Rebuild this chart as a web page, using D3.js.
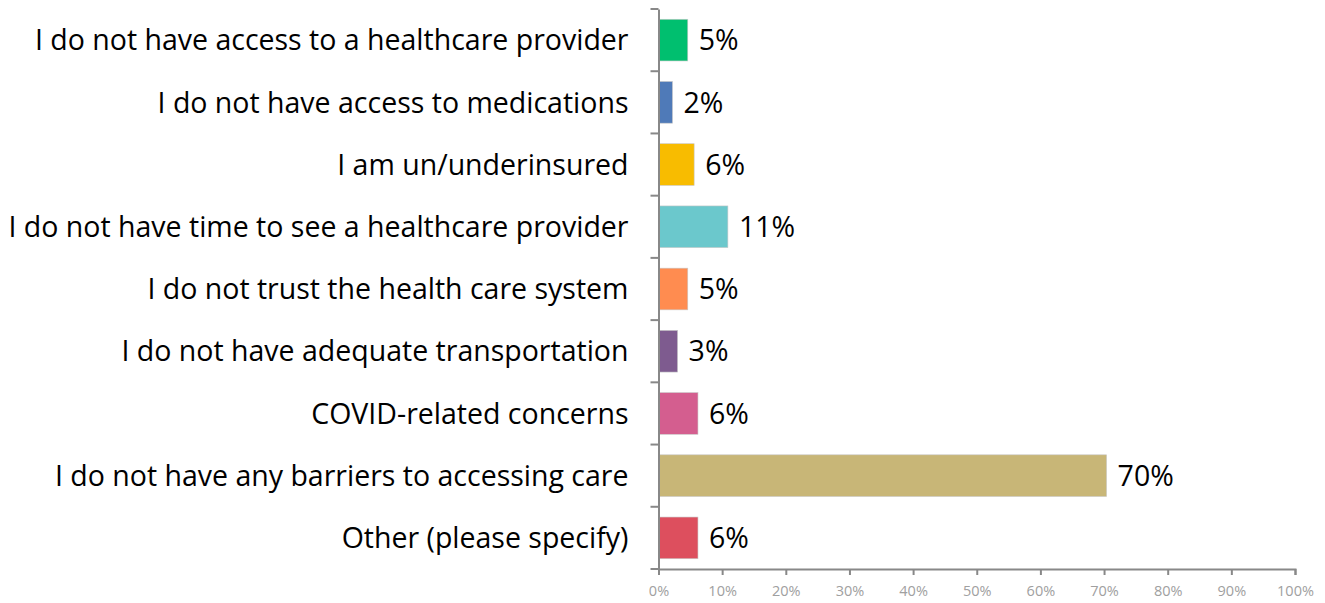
<!DOCTYPE html>
<html>
<head>
<meta charset="utf-8">
<script src="https://cdn.jsdelivr.net/npm/d3@7"></script>
<style>
  body { margin: 0; background: #fff; }
  svg { display: block; }
</style>
</head>
<body>
<div id="chart"></div>
<script>
// data
const categories = [
  "I do not have access to a healthcare provider",
  "I do not have access to medications",
  "I am un/underinsured",
  "I do not have time to see a healthcare provider",
  "I do not trust the health care system",
  "I do not have adequate transportation",
  "COVID-related concerns",
  "I do not have any barriers to accessing care",
  "Other (please specify)"
];
const values = [4.6, 2.2, 5.6, 10.9, 4.6, 3.0, 6.2, 70.4, 6.2];
const valueLabels = ["5%", "2%", "6%", "11%", "5%", "3%", "6%", "70%", "6%"];
const colors = ["#00BF6F", "#4F7AB8", "#F8BC00", "#6BC8CC", "#FF8C50", "#7E5B8F", "#D45E8F", "#C8B677", "#DD4F5E"];
const xTicks = [0, 10, 20, 30, 40, 50, 60, 70, 80, 90, 100];

const W = 1325, H = 603;
const margin = {top: 9, right: 30, bottom: 34, left: 658.5};
const width = 1295 - margin.left;
const height = H - margin.top - margin.bottom;
const font = "'Open Sans', Lato, sans-serif";

const svg = d3.select("#chart").append("svg")
  .attr("width", W).attr("height", H);
const g = svg.append("g")
  .attr("transform", `translate(${margin.left},${margin.top})`);

const x = d3.scaleLinear().domain([0, 100]).range([0, width]);
const y = d3.scaleBand().domain(categories).range([0, height]).paddingInner(0.33).paddingOuter(0.165);

// bars
g.selectAll("rect.bar")
  .data(categories)
  .enter().append("rect")
  .attr("class", "bar")
  .attr("x", 0)
  .attr("y", d => y(d))
  .attr("width", (d, i) => x(values[i]))
  .attr("height", y.bandwidth())
  .attr("fill", (d, i) => colors[i])
  .attr("stroke", "#c8c8c8")
  .attr("stroke-width", 0.6);

// value labels
g.selectAll("text.val")
  .data(categories)
  .enter().append("text")
  .attr("class", "val")
  .attr("x", (d, i) => x(values[i]) + 11)
  .attr("y", d => y(d) + y.bandwidth() / 2)
  .attr("dy", "0.36em")
  .style("font-family", font)
  .style("font-size", "28.5px")
  .attr("fill", "#000")
  .text((d, i) => valueLabels[i]);

// y axis (labels only, ticks at category boundaries)
const yAxis = g.append("g")
  .call(d3.axisLeft(y).tickSize(0).tickPadding(30));
yAxis.select(".domain").attr("stroke", "#888").attr("stroke-width", 2);
yAxis.selectAll("text")
  .attr("dy", "0.36em")
  .style("font-family", font)
  .style("font-size", "28.5px")
  .attr("fill", "#000");

const boundaries = categories.map(d => y(d) - y.step() * y.paddingInner() / 2).concat([height]);
g.selectAll("line.ytick")
  .data(boundaries)
  .enter().append("line")
  .attr("class", "ytick")
  .attr("x1", -8).attr("x2", 0)
  .attr("y1", d => d).attr("y2", d => d)
  .attr("stroke", "#888").attr("stroke-width", 2);

// x axis
const xAxis = g.append("g")
  .attr("transform", `translate(0,${height})`)
  .call(d3.axisBottom(x).tickValues(xTicks).tickSize(6).tickPadding(11).tickFormat(d => d + "%"));
xAxis.select(".domain").attr("stroke", "#888").attr("stroke-width", 2);
xAxis.selectAll(".tick line").attr("stroke", "#888").attr("stroke-width", 2);
xAxis.selectAll("text")
  .style("font-family", font)
  .style("font-size", "14.5px")
  .attr("fill", "#a0a0a0");
</script>
</body>
</html>
